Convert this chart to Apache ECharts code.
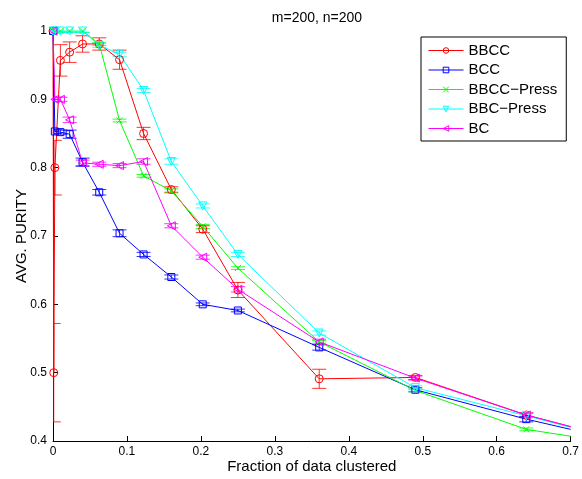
<!DOCTYPE html>
<html>
<head>
<meta charset="utf-8">
<script src="https://cdn.jsdelivr.net/npm/echarts@6/dist/echarts.min.js"></script>
<style>html,body{margin:0;padding:0;background:#fff}#c{width:582px;height:479px}</style>
</head>
<body>
<div id="c"></div>
<script>
// ---- data ----
const titleText = 'm=200, n=200';
const xName = 'Fraction of data clustered';
const yName = 'AVG. PURITY';
const seriesNames = ['BBCC', 'BCC', 'BBCC\u2212Press', 'BBC\u2212Press', 'BC'];

const bbccX = [0, 0.001, 0.0025, 0.01, 0.0225, 0.04, 0.0625, 0.09, 0.1225, 0.16, 0.2025, 0.25, 0.36, 0.49, 0.64, 0.7];
const bbccY = [1.0, 0.5, 0.8, 0.957, 0.969, 0.981, 0.981, 0.958, 0.850, 0.768, 0.710, 0.621, 0.491, 0.493, 0.438, 0.421];
const bbccErr = [0, 0.072, 0.04, 0.023, 0.015, 0.012, 0.009, 0.014, 0.009, 0.004, 0.005, 0.011, 0.014, 0.003, 0.003, 0];

const xs = [0, 0.0025, 0.01, 0.0225, 0.04, 0.0625, 0.09, 0.1225, 0.16, 0.2025, 0.25, 0.36, 0.49, 0.64, 0.7];
const bccY = [1.0, 0.853, 0.852, 0.849, 0.808, 0.764, 0.704, 0.673, 0.640, 0.600, 0.591, 0.537, 0.475, 0.432, 0.417];
const bccErr = [0, 0.003, 0.003, 0.006, 0.006, 0.004, 0.005, 0.003, 0.003, 0.002, 0.002, 0.004, 0.003, 0.004, 0];
const bbccPressY = [1.0, 1.0, 1.0, 1.0, 1.0, 0.981, 0.869, 0.788, 0.766, 0.714, 0.653, 0.545, 0.474, 0.417, 0.407];
const bbccPressErr = [0, 0.002, 0.002, 0.002, 0.002, 0.002, 0.002, 0.002, 0.003, 0.003, 0.002, 0.002, 0.002, 0.002, 0];
const bbcPressY = [1.0, 1.0, 1.0, 1.0, 1.0, 0.979, 0.966, 0.913, 0.809, 0.744, 0.673, 0.558, 0.478, 0.437, 0.420];
const bbcPressErr = [0, 0.003, 0.002, 0.002, 0.002, 0.003, 0.003, 0.003, 0.004, 0.003, 0.003, 0.003, 0.003, 0.003, 0];
const bcY = [1.0, 0.900, 0.900, 0.870, 0.807, 0.805, 0.803, 0.809, 0.715, 0.669, 0.622, 0.545, 0.492, 0.438, 0.421];
const bcErr = [0, 0.003, 0.003, 0.004, 0.004, 0.003, 0.003, 0.004, 0.003, 0.003, 0.004, 0.004, 0.003, 0.003, 0];

// ---- styles ----
const colors = ['#ff0000', '#0000ff', '#00ff00', '#00ffff', '#ff00ff'];
const symbols = ['circle', 'rect', 'path://M0,0L10,10M10,0L0,10', 'triangle', 'triangle'];
const symbolRot = [0, 0, 0, 180, 90];
const symbolSizes = [8, 7, 6, 8, 8];
const FONT = '"Liberation Sans", Arial, Helvetica, sans-serif';

const sets = [
  [bbccX, bbccY, bbccErr],
  [xs, bccY, bccErr],
  [xs, bbccPressY, bbccPressErr],
  [xs, bbcPressY, bbcPressErr],
  [xs, bcY, bcErr]
];

const series = [];
sets.forEach(function (s, k) {
  const X = s[0], Y = s[1], E = s[2];
  const c = colors[k];
  series.push({
    type: 'custom',
    silent: true,
    clip: true,
    z: 2,
    data: X.map(function (x, i) { return [x, Y[i], E[i]]; }),
    encode: { x: 0, y: 1 },
    renderItem: function (params, api) {
      const x = api.value(0), y = api.value(1), e = api.value(2);
      if (!e) return { type: 'group', children: [] };
      const a = api.coord([x, y - e]);
      const b = api.coord([x, y + e]);
      const w = 7;
      const st = { stroke: c, lineWidth: 1, opacity: 0.8 };
      return {
        type: 'group',
        children: [
          { type: 'line', shape: { x1: a[0], y1: a[1], x2: b[0], y2: b[1] }, style: st },
          { type: 'line', shape: { x1: a[0] - w, y1: a[1], x2: a[0] + w, y2: a[1] }, style: st },
          { type: 'line', shape: { x1: b[0] - w, y1: b[1], x2: b[0] + w, y2: b[1] }, style: st }
        ]
      };
    }
  });
  series.push({
    type: 'line',
    name: seriesNames[k],
    z: 3,
    symbol: symbols[k],
    symbolRotate: symbolRot[k],
    symbolSize: symbolSizes[k],
    showAllSymbol: true,
    lineStyle: { color: c, width: 1 },
    itemStyle: { color: 'rgba(255,255,255,0)', borderColor: c, borderWidth: 1 },
    data: X.map(function (x, i) {
      const d = { value: [x, Y[i]] };
      if (i === X.length - 1) d.symbol = 'none';
      return d;
    })
  });
});

const chart = echarts.init(document.getElementById('c'), null, { renderer: 'canvas' });
chart.setOption({
  animation: false,
  backgroundColor: '#fff',
  textStyle: { fontFamily: FONT },
  title: {
    text: titleText,
    left: 312,
    textAlign: 'center',
    top: 6,
    textStyle: { fontFamily: FONT, fontSize: 14, fontWeight: 'normal', color: '#000' }
  },
  legend: {
    data: seriesNames,
    orient: 'vertical',
    left: 421,
    top: 37,
    padding: [5, 9, 4, 7],
    itemWidth: 35,
    itemHeight: 7,
    itemGap: 2.5,
    borderColor: '#000',
    borderWidth: 1,
    backgroundColor: '#fff',
    lineStyle: { width: 1 },
    itemStyle: { color: 'rgba(255,255,255,0)', borderWidth: 1 },
    textStyle: { fontFamily: FONT, fontSize: 15, color: '#000', lineHeight: 17 }
  },
  grid: { left: 53, right: 11, top: 31, bottom: 38, containLabel: false },
  xAxis: {
    type: 'value',
    min: 0, max: 0.7, interval: 0.1,
    name: xName,
    nameLocation: 'middle',
    nameGap: 18,
    nameMoveOverlap: false,
    nameTextStyle: { fontFamily: FONT, fontSize: 15, color: '#000' },
    axisLine: { lineStyle: { color: '#000', width: 1 } },
    axisTick: { inside: true, length: 5, lineStyle: { color: '#000' } },
    axisLabel: { fontFamily: FONT, fontSize: 12, color: '#000', margin: 5 },
    splitLine: { show: false }
  },
  yAxis: {
    type: 'value',
    min: 0.4, max: 1, interval: 0.1,
    name: yName,
    nameLocation: 'middle',
    nameGap: 24,
    nameMoveOverlap: false,
    nameTextStyle: { fontFamily: FONT, fontSize: 15, color: '#000' },
    axisLine: { show: true, lineStyle: { color: '#000', width: 1 } },
    axisTick: { show: true, inside: true, length: 5, lineStyle: { color: '#000' } },
    axisLabel: { fontFamily: FONT, fontSize: 12, color: '#000', margin: 6 },
    splitLine: { show: false }
  },
  series: series
});
</script>
</body>
</html>
